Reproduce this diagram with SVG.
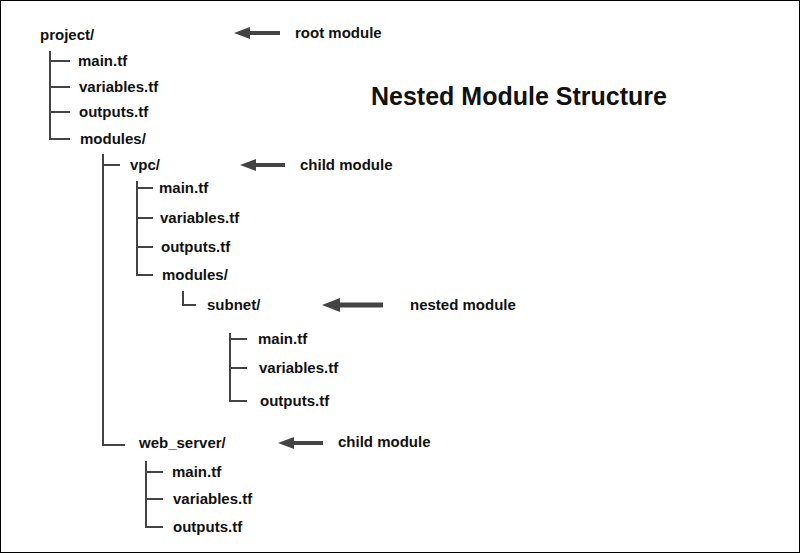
<svg xmlns="http://www.w3.org/2000/svg" width="800" height="553" viewBox="0 0 800 553">
<defs>
<style>
text{font-family:"Liberation Sans",Arial,sans-serif;font-weight:bold;font-size:15px;fill:#111}
.t{font-size:25px}
.ln{stroke:#444;stroke-width:2;fill:none}
.ar{stroke:#444;stroke-width:4;fill:none}
.ah{fill:#444}
</style>
</defs>
<rect x="0.5" y="0.5" width="799" height="552" fill="#fff" stroke="#000"/>
<text class="t" x="371" y="105">Nested Module Structure</text>
<g id="connectors">
<path class="ln" d="M50 51V139H70M50 61H70M50 87H70M50 112H70"/>
<path class="ln" d="M103 154V445H125M103 165H120"/>
<path class="ln" d="M137 181V275H153M137 188H153M137 218H153M137 247H153"/>
<path class="ln" d="M183 291V305H196"/>
<path class="ln" d="M230 333V401H247M230 339H247M230 368H247"/>
<path class="ln" d="M146 461V527H163M146 472H163M146 499H163"/>
<path class="ar" d="M280 33H248"/><path class="ah" d="M234 33L250 27V39Z"/>
<path class="ar" d="M285 165H254"/><path class="ah" d="M240 165L256 159V171Z"/>
<path class="ar" d="M383 305H338" style="stroke-width:5"/><path class="ah" d="M322 305L340 298V312Z"/>
<path class="ar" d="M323 443H292"/><path class="ah" d="M278 443L294 437V449Z"/>
</g>
<g id="project"><text x="40" y="40">project/</text><text x="295" y="38">root module</text></g>
<g id="root-files"><text x="78" y="66">main.tf</text><text x="79" y="92">variables.tf</text><text x="79" y="117">outputs.tf</text><text x="80" y="144">modules/</text></g>
<g id="vpc"><text x="130" y="170">vpc/</text><text x="300" y="170">child module</text></g>
<g id="vpc-files"><text x="159" y="193">main.tf</text><text x="160" y="223">variables.tf</text><text x="161" y="252">outputs.tf</text><text x="162" y="280">modules/</text></g>
<g id="subnet"><text x="207" y="310">subnet/</text><text x="410" y="310">nested module</text></g>
<g id="subnet-files"><text x="258" y="344">main.tf</text><text x="259" y="373">variables.tf</text><text x="260" y="406">outputs.tf</text></g>
<g id="web_server"><text x="139" y="448">web_server/</text><text x="338" y="447">child module</text></g>
<g id="web-files"><text x="172" y="477">main.tf</text><text x="173" y="504">variables.tf</text><text x="173" y="532">outputs.tf</text></g>
</svg>
